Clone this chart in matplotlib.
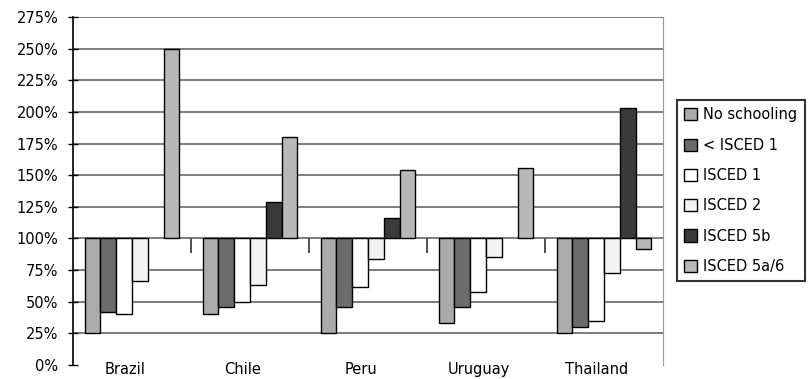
import numpy as np
import matplotlib
matplotlib.use("Agg")
import matplotlib.pyplot as plt
from matplotlib.transforms import ScaledTranslation

countries = ["Brazil", "Chile", "Peru", "Uruguay", "Thailand"]
series = ["No schooling", "< ISCED 1", "ISCED 1", "ISCED 2", "ISCED 5b", "ISCED 5a/6"]

no_schooling = [25, 40, 25, 33, 25]
lt_isced1 = [42, 46, 46, 46, 30]
isced1 = [40, 50, 62, 58, 35]
isced2 = [66, 63, 84, 85, 73]
isced5b = [np.nan, 129, 116, np.nan, 203]
isced5a6 = [250, 180, 154, 156, 92]

yticks = list(range(0, 276, 25))
baseline = 100

colors = ["#ababab", "#6c6c6c", "#ffffff", "#f3f3f3", "#3a3a3a", "#b8b8b8"]

plt.rcParams["font.family"] = ["DejaVu Sans"]
fig = plt.figure(figsize=(8.11, 3.79), dpi=100)
ax = fig.add_axes([73 / 811, 1 - 365 / 379, (663 - 73) / 811, (365 - 17) / 379])

data = [no_schooling, lt_isced1, isced1, isced2, isced5b, isced5a6]
x = np.arange(len(countries))
w = 0.134
handles = []
for j, (vals, name, c) in enumerate(zip(data, series, colors)):
    v = np.array(vals, dtype=float)
    b = ax.bar(x + (j - 2.5) * w, v - baseline, bottom=baseline, width=w,
               color=c, edgecolor="black", linewidth=1.0, label=name, zorder=3)
    handles.append(b)

ax.set_xlim(-0.5, len(countries) - 0.5)
ax.set_ylim(0, 275)
ax.set_yticks(yticks)
ax.set_yticklabels([f"{t}%" for t in yticks], fontsize=10.5)
ax.tick_params(axis="y", direction="inout", length=7, width=1, pad=7, colors="black")
ax.yaxis.grid(True, color="#5a5a5a", linewidth=1.1, zorder=0)
ax.set_axisbelow(True)
ax.get_ygridlines()[0].set_visible(False)

ax.set_xticks(x)
ax.set_xticklabels(countries, fontsize=10.5)
ax.tick_params(axis="x", length=0, pad=-2)
for lab in ax.get_xticklabels():
    lab.set_transform(lab.get_transform() + ScaledTranslation(-7 / 100, 0, fig.dpi_scale_trans))

# category axis crossing at 100%
sec = ax.secondary_xaxis(baseline / 275)
sec.set_xticks(np.arange(len(countries) - 1) + 0.5)
sec.set_xticklabels([])
sec.tick_params(direction="out", length=11, width=1.2, color="#333333")
sec.spines["bottom"].set_visible(False)

for s in ["top", "bottom"]:
    ax.spines[s].set_visible(False)
ax.spines["right"].set_color("#9a9a9a")
ax.spines["left"].set_color("black")
ax.spines["left"].set_linewidth(1.2)

leg = fig.legend(handles=handles, labels=series, loc="upper left",
                 bbox_to_anchor=(677 / 811, 1 - 100 / 379), fontsize=10.5,
                 frameon=True, fancybox=False, shadow=False, borderaxespad=0,
                 handlelength=0.9, handleheight=0.9, handletextpad=0.4,
                 labelspacing=1.05, borderpad=0.5)
leg.get_frame().set_edgecolor("black")
leg.get_frame().set_linewidth(1.5)

fig.savefig("out.png", dpi=100)
